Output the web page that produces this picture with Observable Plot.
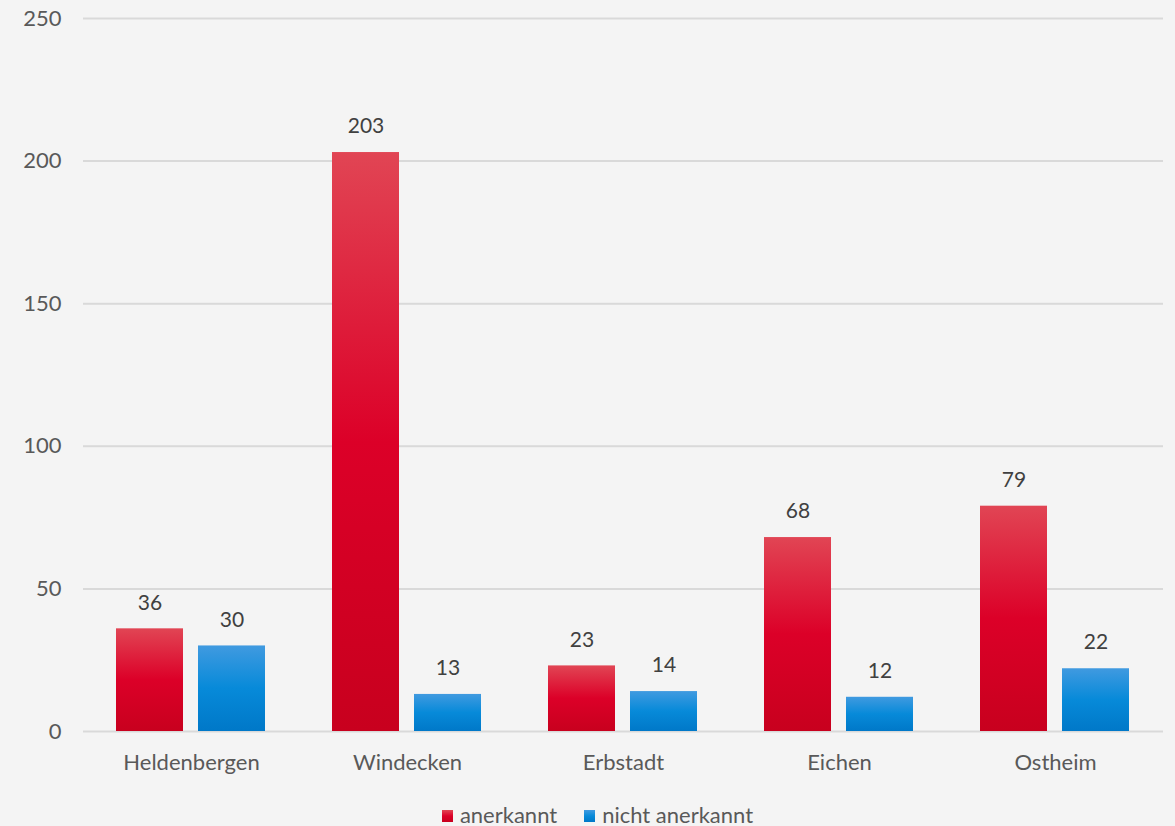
<!DOCTYPE html>
<html>
<head>
<meta charset="utf-8">
<script src="https://cdn.jsdelivr.net/npm/d3@7"></script>
<script src="https://cdn.jsdelivr.net/npm/@observablehq/plot@0.6"></script>
<style>
  html, body { margin: 0; padding: 0; background: #f4f4f4; }
  body { width: 1175px; height: 826px; overflow: hidden; font-family: Lato, "Open Sans", sans-serif; }
  #chart svg { display: block; }
  #legend { display: flex; justify-content: center; gap: 27px; margin-top: 17px; margin-left: 20px; font-size: 22px; color: #595959; line-height: 26px; }
  .item { display: flex; align-items: center; gap: 7px; }
  .sw { width: 11px; height: 12px; margin-top: 2px; }
</style>
</head>
<body>
<div id="chart"></div>
<div id="legend"></div>
<script>
const categories = ["Heldenbergen", "Windecken", "Erbstadt", "Eichen", "Ostheim"];
const series = ["anerkannt", "nicht anerkannt"];
const anerkannt = [36, 203, 23, 68, 79];
const nichtAnerkannt = [30, 13, 14, 12, 22];
const yTicks = [0, 50, 100, 150, 200, 250];

const gradients = {"anerkannt": "url(#gRed)", "nicht anerkannt": "url(#gBlue)"};
const data = [];
categories.forEach((c, i) => {
  data.push({category: c, series: series[0], value: anerkannt[i]});
  data.push({category: c, series: series[1], value: nichtAnerkannt[i]});
});

const defs = () => {
  const svg = d3.create("svg:g");
  const d = svg.append("defs");
  const r = d.append("linearGradient").attr("id", "gRed").attr("x1", 0).attr("y1", 0).attr("x2", 0).attr("y2", 1);
  r.append("stop").attr("offset", "0%").attr("stop-color", "#e14554");
  r.append("stop").attr("offset", "50%").attr("stop-color", "#dc0028");
  r.append("stop").attr("offset", "100%").attr("stop-color", "#c8001e");
  const b = d.append("linearGradient").attr("id", "gBlue").attr("x1", 0).attr("y1", 0).attr("x2", 0).attr("y2", 1);
  b.append("stop").attr("offset", "0%").attr("stop-color", "#409ae0");
  b.append("stop").attr("offset", "50%").attr("stop-color", "#078ad9");
  b.append("stop").attr("offset", "100%").attr("stop-color", "#0078c8");
  return svg.node();
};

const chart = Plot.plot({
  width: 1175,
  height: 785,
  marginTop: 18,
  marginBottom: 54,
  marginLeft: 81,
  marginRight: 10,
  style: {background: "#f4f4f4", fontFamily: "Lato, 'Open Sans', sans-serif", fontSize: "22px", color: "#595959"},
  fx: {domain: categories, padding: 0, label: null, axis: "bottom", tickSize: 0, tickPadding: 23},
  x: {domain: series, paddingInner: 0.181, paddingOuter: 0.396, axis: null},
  y: {domain: [0, 250], ticks: yTicks, label: null, tickSize: 0, tickPadding: 22, grid: false},
  marks: [
    defs,
    Plot.ruleY(yTicks, {stroke: "#d9d9d9", strokeWidth: 2, strokeOpacity: 1}),
    Plot.barY(data, {fx: "category", x: "series", y: "value", fill: d => gradients[d.series]}),
    Plot.text(data, {fx: "category", x: "series", y: "value", text: d => String(d.value), dy: -26, fill: "#404040", fontSize: 21})
  ]
});
document.getElementById("chart").appendChild(chart);

const legend = document.getElementById("legend");
[["anerkannt", "linear-gradient(#e14554,#dc0028,#c8001e)"], ["nicht anerkannt", "linear-gradient(#409ae0,#078ad9,#0078c8)"]].forEach(([t, g]) => {
  const it = document.createElement("div"); it.className = "item";
  const s = document.createElement("div"); s.className = "sw"; s.style.background = g;
  const l = document.createElement("span"); l.textContent = t;
  it.appendChild(s); it.appendChild(l); legend.appendChild(it);
});
</script>
</body>
</html>
